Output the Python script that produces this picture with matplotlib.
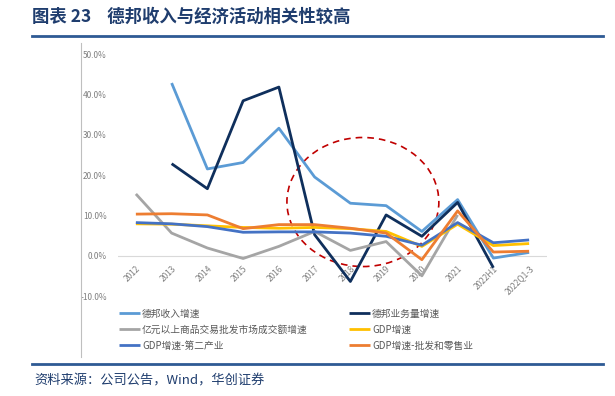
import matplotlib.pyplot as plt
import matplotlib.transforms as mtransforms
from matplotlib.patches import Ellipse
from matplotlib.lines import Line2D
import numpy as np

plt.rcParams['font.family'] = ['Noto Sans CJK SC', 'DejaVu Sans']

periods = ["2012", "2013", "2014", "2015", "2016", "2017", "2018", "2019",
           "2020", "2021", "2022H1", "2022Q1-3"]

# values in %, None where the series has no point
revenue = [None, 42.8, 21.5, 23.1, 31.6, 19.5, 13.0, 12.4, 6.0, 13.9, -0.6, 0.8]
volume = [None, 22.8, 16.6, 38.4, 41.8, 5.2, -6.4, 10.1, 4.8, 13.2, -3.0, None]
market = [15.3, 5.6, 1.9, -0.7, 2.3, 6.0, 1.3, 3.5, -5.0, 10.1, None, None]
gdp = [7.9, 7.8, 7.4, 7.0, 6.8, 7.0, 6.7, 6.0, 2.3, 7.8, 2.5, 3.0]
gdp_secondary = [8.2, 7.9, 7.2, 5.8, 5.9, 5.9, 5.6, 4.8, 2.6, 8.2, 3.2, 3.9]
gdp_retail = [10.3, 10.4, 10.1, 6.7, 7.7, 7.7, 6.8, 5.6, -1.0, 11.1, 0.9, 1.1]

series = [
    ("德邦收入增速", revenue, "#5B9BD5"),
    ("德邦业务量增速", volume, "#0F2F5C"),
    ("亿元以上商品交易批发市场成交额增速", market, "#A5A5A5"),
    ("GDP增速", gdp, "#FFC000"),
    ("GDP增速-第二产业", gdp_secondary, "#4472C4"),
    ("GDP增速-批发和零售业", gdp_retail, "#ED7D31"),
]

fig = plt.figure(figsize=(6.15, 3.96), dpi=100)

# header and footer
fig.text(32/615, 1 - 17/396, "图表 23    德邦收入与经济活动相关性较高", fontsize=12.5,
         fontweight='bold', color="#1F3D6E", va='center', ha='left')
fig.add_artist(Line2D([32/615, 603/615], [1 - 36/396] * 2, color="#2E5A94", lw=2))
fig.add_artist(Line2D([32/615, 603/615], [1 - 364/396] * 2, color="#2E5A94", lw=2))
fig.add_artist(Line2D([81/615, 81/615], [1 - 43/396, 1 - 357/396], color="#BFBFBF", lw=0.8))
fig.text(34/615, 1 - 381/396, "资料来源：公司公告，Wind，华创证券", fontsize=9.5,
         style='italic', color="#1F3D6E", va='center', ha='left')

ax = fig.add_axes([118/615, 1 - 296/396, 429/615, 242/396])
x = np.arange(len(periods))
handles = {}
for name, vals, col in series:
    y = np.array([np.nan if v is None else v for v in vals], dtype=float)
    h, = ax.plot(x, y, color=col, lw=2.0, solid_capstyle='butt', label=name)
    handles[name] = h

ax.axhline(0, color="#D9D9D9", lw=0.8, zorder=0)
ax.set_xlim(-0.5, len(periods) - 0.5)
ax.set_ylim(-10, 50)
ax.set_yticks(np.arange(-10, 51, 10))
ax.set_yticklabels([f"{v:.1f}%" for v in np.arange(-10, 51, 10)], fontsize=6, color="#7F7F7F")
ax.tick_params(axis='y', length=0, pad=8)
ax.set_xticks(x)
ax.set_xticklabels(periods, rotation=45, ha='right', rotation_mode='anchor',
                   fontsize=6, color="#7F7F7F")
ax.tick_params(axis='x', length=0)
for s in ax.spines.values():
    s.set_visible(False)

# x tick labels hang just under the zero line
offset = mtransforms.ScaledTranslation(0, -6/72, fig.dpi_scale_trans)
for lbl in ax.get_xticklabels():
    lbl.set_transform(ax.transData + offset)
    lbl.set_y(0)

ax.add_patch(Ellipse((6.35, 13.3), 4.25, 32, fill=False, edgecolor="#C00000",
                     lw=1.2, linestyle=(0, (4, 3))))

order = ["德邦收入增速", "亿元以上商品交易批发市场成交额增速", "GDP增速-第二产业",
         "德邦业务量增速", "GDP增速", "GDP增速-批发和零售业"]
fig.legend([handles[n] for n in order], order, ncol=2, loc='upper left',
           bbox_to_anchor=(110/615, 1 - 300/396), frameon=False, fontsize=7,
           handlelength=2.2, handletextpad=0.2, columnspacing=4.2,
           labelspacing=0.62, labelcolor="#595959")

fig.savefig("out.png", dpi=100)
